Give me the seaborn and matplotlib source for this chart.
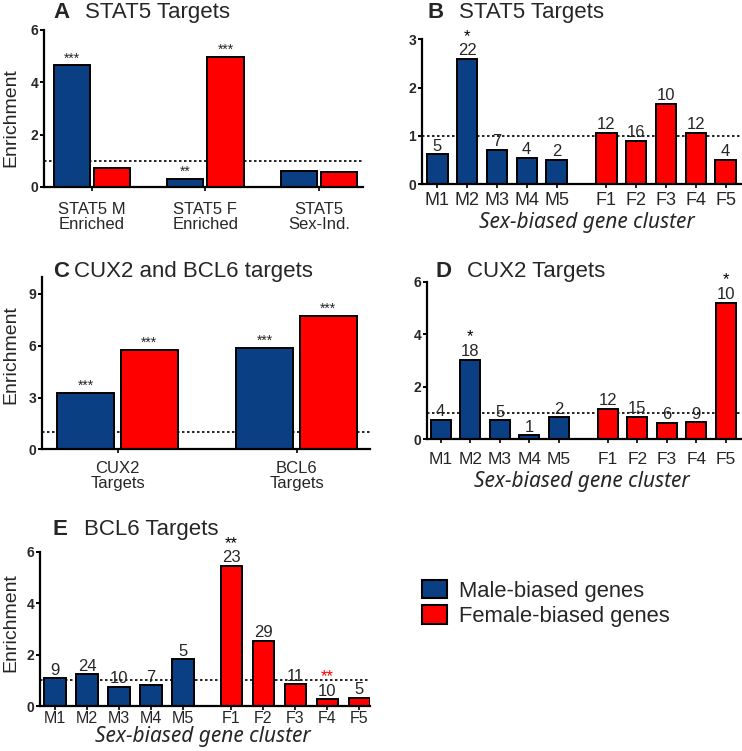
import numpy as np
import pandas as pd
import matplotlib
matplotlib.use("Agg")
import matplotlib.pyplot as plt
from matplotlib.patches import Patch
import seaborn as sns

# ---------------- data ----------------
a_groups = ["STAT5 M\nEnriched", "STAT5 F\nEnriched", "STAT5\nSex-Ind."]
a_male = [4.65, 0.31, 0.61]
a_female = [0.74, 4.96, 0.58]
a_male_sig = ["***", "**", ""]
a_female_sig = ["", "***", ""]

c_groups = ["CUX2\nTargets", "BCL6\nTargets"]
c_male = [3.27, 5.86]
c_female = [5.77, 7.75]
c_male_sig = ["***", "***"]
c_female_sig = ["***", "***"]

clusters = ["M1", "M2", "M3", "M4", "M5", "F1", "F2", "F3", "F4", "F5"]
cluster_sex = ["Male"] * 5 + ["Female"] * 5

b_vals = [0.62, 2.59, 0.72, 0.55, 0.51, 1.07, 0.90, 1.66, 1.06, 0.51]
b_counts = [5, 22, 7, 4, 2, 12, 16, 10, 12, 4]
b_sig = ["", "*", "", "", "", "", "", "", "", ""]

d_vals = [0.73, 3.03, 0.72, 0.15, 0.84, 1.15, 0.86, 0.63, 0.65, 5.20]
d_counts = [4, 18, 5, 1, 2, 12, 15, 6, 9, 10]
d_sig = ["", "*", "", "", "", "", "", "", "", "*"]

e_vals = [1.08, 1.23, 0.74, 0.80, 1.81, 5.44, 2.52, 0.84, 0.26, 0.32]
e_counts = [9, 24, 10, 7, 5, 23, 29, 11, 10, 5]
e_sig = ["", "", "", "", "", "**", "", "", "**", ""]
e_sig_red = [False] * 8 + [True, False]

legend_labels = ["Male-biased genes", "Female-biased genes"]

# ---------------- style ----------------
BLUE = "#0a3f84"
RED = "#ff0000"
palette = {"Male": BLUE, "Female": RED}

sns.set_style("ticks")
plt.rcParams["font.family"] = ["Liberation Sans", "DejaVu Sans"]
NARROW = ["Liberation Sans Narrow", "Liberation Sans", "DejaVu Sans"]
ITAL = ["Noto Sans", "DejaVu Sans"]

W, H = 742, 751
fig = plt.figure(figsize=(W / 100, H / 100), dpi=100)


def add_ax(l, r, top, bottom):
    return fig.add_axes([l / W, 1 - bottom / H, (r - l) / W, (bottom - top) / H])


def style_ax(ax, ymax, yticks, xpad, xfs):
    ax.set_ylim(0, ymax)
    ax.set_yticks(yticks)
    for s in ["top", "right"]:
        ax.spines[s].set_visible(False)
    for s in ["left", "bottom"]:
        ax.spines[s].set_linewidth(1.6)
        ax.spines[s].set_color("black")
    ax.tick_params(axis="y", length=3, width=1.4, pad=1, labelsize=10, color="black")
    ax.tick_params(axis="x", length=3, width=1.2, pad=xpad, labelsize=xfs, color="black")
    for t in ax.get_yticklabels():
        t.set_fontweight("bold")
        t.set_family(NARROW)
    ax.axhline(1, color="black", lw=1.2, ls=(0, (1.5, 1.5)), zorder=0)
    ax.set_xlabel("")
    ax.set_ylabel("")


def title(x_letter, x_text, baseline, letter, text):
    fig.text(x_letter / W, 1 - baseline / H, letter, fontsize=16, fontweight="bold", va="baseline")
    fig.text(x_text / W, 1 - baseline / H, text, fontsize=16, va="baseline")


def grouped(ax, groups, male, female, msig, fsig, xlim):
    df = pd.DataFrame({
        "group": groups * 2,
        "sex": ["Male"] * len(groups) + ["Female"] * len(groups),
        "value": male + female,
    })
    sns.barplot(data=df, x="group", y="value", hue="sex", hue_order=["Male", "Female"],
                palette=palette, saturation=1, width=0.71, gap=0.1, edgecolor="black",
                linewidth=1.4, errorbar=None, legend=False, ax=ax, zorder=2)
    ax.set_xlim(*xlim)
    ax.bar_label(ax.containers[0], labels=msig, padding=0, fontsize=10, family=NARROW)
    ax.bar_label(ax.containers[1], labels=fsig, padding=0, fontsize=10, family=NARROW)


def clustered(ax, vals, counts, sig, gap, xlim, sig_red=None):
    pos = np.r_[np.arange(5), np.arange(5) + 5 + gap]
    df = pd.DataFrame({"pos": pos, "value": vals, "sex": cluster_sex})
    sns.barplot(data=df, x="pos", y="value", hue="sex", hue_order=["Male", "Female"],
                palette=palette, saturation=1, native_scale=True, dodge=False, width=0.68,
                edgecolor="black", linewidth=1.4, errorbar=None, legend=False, ax=ax, zorder=2)
    ax.set_xlim(*xlim)
    ax.set_xticks(pos)
    ax.set_xticklabels(clusters)
    for i, (p, v) in enumerate(zip(pos, vals)):
        ax.annotate(str(counts[i]), (p, v), xytext=(0, 0.5), textcoords="offset points",
                    ha="center", va="bottom", fontsize=12, family=NARROW)
        if sig[i]:
            col = RED if (sig_red is not None and sig_red[i]) else "black"
            ax.annotate(sig[i], (p, v), xytext=(0, 11), textcoords="offset points",
                        ha="center", va="bottom", fontsize=12, family=NARROW, color=col)


# ---------------- Panel A ----------------
axA = add_ax(44, 363, 30, 187)
grouped(axA, a_groups, a_male, a_female, a_male_sig, a_female_sig, (-0.424, 2.39))
style_ax(axA, 6, [0, 2, 4, 6], 8, 12)
for t in axA.get_xticklabels():
    t.set_linespacing(1.0)
axA.set_ylabel("Enrichment", fontsize=14)
axA.yaxis.set_label_coords(-0.078, 0.443)
title(53, 85, 18.3, "A", "STAT5 Targets")

# ---------------- Panel B ----------------
axB = add_ax(421.7, 741, 39.3, 184.3)
clustered(axB, b_vals, b_counts, b_sig, 0.68, (-0.53, 10.2))
style_ax(axB, 3, [0, 1, 2, 3], 2.9, 13)
axB.set_xlabel("Sex-biased gene cluster", fontsize=15, fontstyle="italic", family=ITAL)
axB.xaxis.set_label_coords(0.518, -0.192)
title(428, 459, 18.3, "B", "STAT5 Targets")

# ---------------- Panel C ----------------
axC = add_ax(41.7, 370, 276.7, 449.3)
grouped(axC, c_groups, c_male, c_female, c_male_sig, c_female_sig, (-0.424, 1.41))
style_ax(axC, 10, [0, 3, 6, 9], 5.5, 12)
for t in axC.get_xticklabels():
    t.set_linespacing(1.0)
axC.set_ylabel("Enrichment", fontsize=14)
axC.yaxis.set_label_coords(-0.069, 0.546)
title(53, 74, 276.7, "C", "CUX2 and BCL6 targets")

# ---------------- Panel D ----------------
axD = add_ax(426.7, 741, 281.7, 439.3)
clustered(axD, d_vals, d_counts, d_sig, 0.65, (-0.47, 10.16))
style_ax(axD, 6, [0, 2, 4, 6], 6.5, 12.5)
axD.set_xlabel("Sex-biased gene cluster", fontsize=15, fontstyle="italic", family=ITAL)
axD.xaxis.set_label_coords(0.494, -0.2)
title(435.7, 466.7, 276.7, "D", "CUX2 Targets")

# ---------------- Panel E ----------------
axE = add_ax(40, 370, 551.7, 706)
clustered(axE, e_vals, e_counts, e_sig, 0.51, (-0.475, 9.84), sig_red=e_sig_red)
style_ax(axE, 6, [0, 2, 4, 6], 0.6, 11.5)
axE.set_xlabel("Sex-biased gene cluster", fontsize=15, fontstyle="italic", family=ITAL)
axE.xaxis.set_label_coords(0.494, -0.128)
axE.set_ylabel("Enrichment", fontsize=14)
axE.yaxis.set_label_coords(-0.064, 0.541)
title(53, 84, 535, "E", "BCL6 Targets")

# ---------------- Legend ----------------
handles = [Patch(facecolor=BLUE, edgecolor="black", linewidth=1.5),
           Patch(facecolor=RED, edgecolor="black", linewidth=1.5)]
fig.legend(handles, legend_labels, loc="upper left", bbox_to_anchor=(422 / W, 1 - 580 / H),
           frameon=False, fontsize=15.8, handlelength=1.12, handleheight=0.92,
           handletextpad=0.55, labelspacing=0.15, borderpad=0, borderaxespad=0)

fig.savefig("out.png", dpi=100)
